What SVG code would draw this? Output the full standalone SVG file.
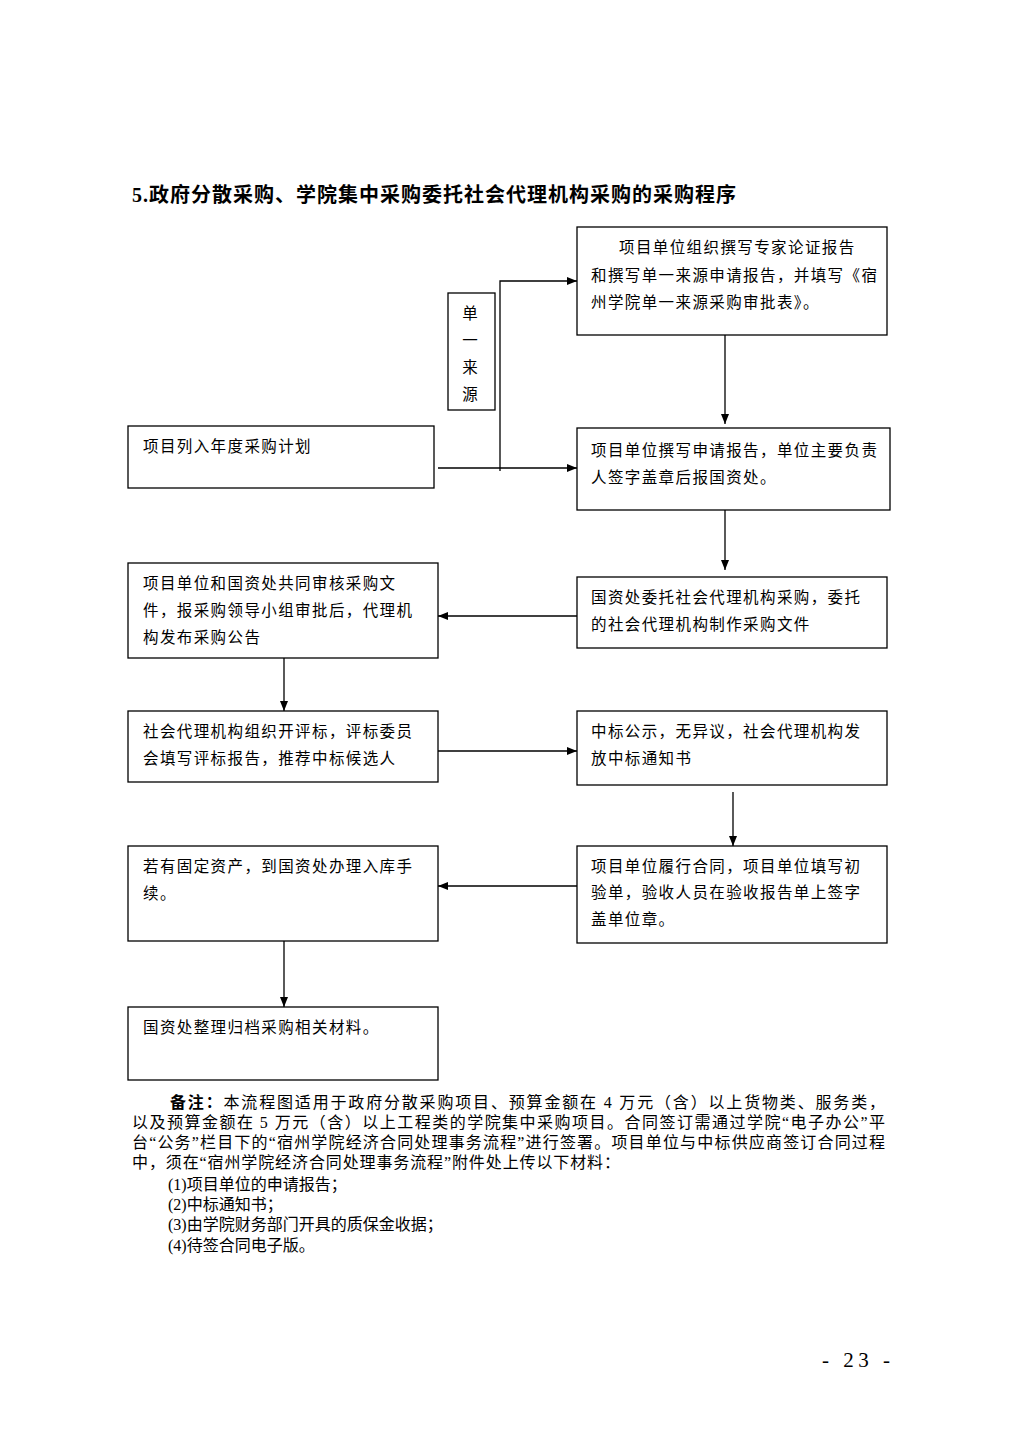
<svg xmlns="http://www.w3.org/2000/svg" width="1024" height="1448" viewBox="0 0 1024 1448">
<style>
.bg{fill:#ffffff}
.box{fill:#ffffff;stroke:#000;stroke-width:1.3}
.t{font-family:"Liberation Serif","Noto Sans CJK SC",serif;font-size:15.5px;fill:#000;letter-spacing:1.4px}
.n{font-family:"Liberation Serif","Noto Sans CJK SC",serif;font-size:16px;fill:#000}
.title{font-family:"Liberation Serif","Noto Sans CJK SC",serif;font-size:20px;font-weight:bold;fill:#000;letter-spacing:1px}
.c{fill:none;stroke:#000;stroke-width:1.3}
</style>
<defs>
<marker id="ar" markerWidth="10" markerHeight="8" refX="10" refY="4" orient="auto" markerUnits="userSpaceOnUse">
<path d="M0,0 L10,4 L0,8 z" fill="#000"/>
</marker>
</defs>
<rect class="bg" x="0" y="0" width="1024" height="1448"/>
<text class="title" x="132" y="202">5.政府分散采购、学院集中采购委托社会代理机构采购的采购程序</text>

<g id="connectors">
<path class="c" d="M438,468 L577,468" marker-end="url(#ar)"/>
<path class="c" d="M500,471 L500,281 L577,281" marker-end="url(#ar)"/>
<path class="c" d="M725,335 L725,424" marker-end="url(#ar)"/>
<path class="c" d="M725,503 L725,570" marker-end="url(#ar)"/>
<path class="c" d="M577,616 L438,616" marker-end="url(#ar)"/>
<path class="c" d="M284,658 L284,711" marker-end="url(#ar)"/>
<path class="c" d="M438,751 L577,751" marker-end="url(#ar)"/>
<path class="c" d="M733,792 L733,846" marker-end="url(#ar)"/>
<path class="c" d="M577,886 L438,886" marker-end="url(#ar)"/>
<path class="c" d="M284,941 L284,1007" marker-end="url(#ar)"/>
</g>

<g id="nodeA">
<rect class="box" x="577" y="227" width="310" height="108"/>
<text class="t" x="619" y="253">项目单位组织撰写专家论证报告</text>
<text class="t" x="591" y="281">和撰写单一来源申请报告，并填写《宿</text>
<text class="t" x="591" y="308">州学院单一来源采购审批表》。</text>
</g>

<g id="nodeSingle">
<rect class="box" x="448" y="293" width="47" height="117"/>
<text class="t" x="470" y="319" text-anchor="middle" style="letter-spacing:0">单</text>
<text class="t" x="470" y="346" text-anchor="middle" style="letter-spacing:0">一</text>
<text class="t" x="470" y="373" text-anchor="middle" style="letter-spacing:0">来</text>
<text class="t" x="470" y="400" text-anchor="middle" style="letter-spacing:0">源</text>
</g>

<g id="nodeB">
<rect class="box" x="128" y="426" width="306" height="62"/>
<text class="t" x="143" y="452">项目列入年度采购计划</text>
</g>

<g id="nodeC">
<rect class="box" x="577" y="428" width="313" height="82"/>
<text class="t" x="591" y="456">项目单位撰写申请报告，单位主要负责</text>
<text class="t" x="591" y="483">人签字盖章后报国资处。</text>
</g>

<g id="nodeD">
<rect class="box" x="577" y="577" width="310" height="71"/>
<text class="t" x="591" y="603">国资处委托社会代理机构采购，委托</text>
<text class="t" x="591" y="630">的社会代理机构制作采购文件</text>
</g>

<g id="nodeE">
<rect class="box" x="128" y="563" width="310" height="95"/>
<text class="t" x="143" y="589">项目单位和国资处共同审核采购文</text>
<text class="t" x="143" y="616">件，报采购领导小组审批后，代理机</text>
<text class="t" x="143" y="643">构发布采购公告</text>
</g>

<g id="nodeF">
<rect class="box" x="128" y="711" width="310" height="71"/>
<text class="t" x="143" y="737">社会代理机构组织开评标，评标委员</text>
<text class="t" x="143" y="764">会填写评标报告，推荐中标候选人</text>
</g>

<g id="nodeG">
<rect class="box" x="577" y="711" width="310" height="74"/>
<text class="t" x="591" y="737">中标公示，无异议，社会代理机构发</text>
<text class="t" x="591" y="764">放中标通知书</text>
</g>

<g id="nodeH">
<rect class="box" x="577" y="846" width="310" height="97"/>
<text class="t" x="591" y="872">项目单位履行合同，项目单位填写初</text>
<text class="t" x="591" y="898">验单，验收人员在验收报告单上签字</text>
<text class="t" x="591" y="925">盖单位章。</text>
</g>

<g id="nodeI">
<rect class="box" x="128" y="846" width="310" height="95"/>
<text class="t" x="143" y="872">若有固定资产，到国资处办理入库手</text>
<text class="t" x="143" y="899">续。</text>
</g>

<g id="nodeJ">
<rect class="box" x="128" y="1007" width="310" height="73"/>
<text class="t" x="143" y="1033">国资处整理归档采购相关材料。</text>
</g>

<g id="note">
<text class="n" x="170" y="1108" textLength="715" lengthAdjust="spacing"><tspan font-weight="bold">备注：</tspan>本流程图适用于政府分散采购项目、预算金额在 4 万元（含）以上货物类、服务类，</text>
<text class="n" x="132" y="1128" textLength="753" lengthAdjust="spacing">以及预算金额在 5 万元（含）以上工程类的学院集中采购项目。合同签订需通过学院“电子办公”平</text>
<text class="n" x="132" y="1148" textLength="753" lengthAdjust="spacing">台“公务”栏目下的“宿州学院经济合同处理事务流程”进行签署。项目单位与中标供应商签订合同过程</text>
<text class="n" x="132" y="1168" textLength="488" lengthAdjust="spacing">中，须在“宿州学院经济合同处理事务流程”附件处上传以下材料：</text>
<text class="n" x="168" y="1190">(1)项目单位的申请报告；</text>
<text class="n" x="168" y="1210">(2)中标通知书；</text>
<text class="n" x="168" y="1230">(3)由学院财务部门开具的质保金收据；</text>
<text class="n" x="168" y="1251">(4)待签合同电子版。</text>
</g>

<text x="822" y="1367" textLength="68" lengthAdjust="spacing" style="font-family:'Liberation Serif',serif;font-size:21px;fill:#000">- 23 -</text>
</svg>
